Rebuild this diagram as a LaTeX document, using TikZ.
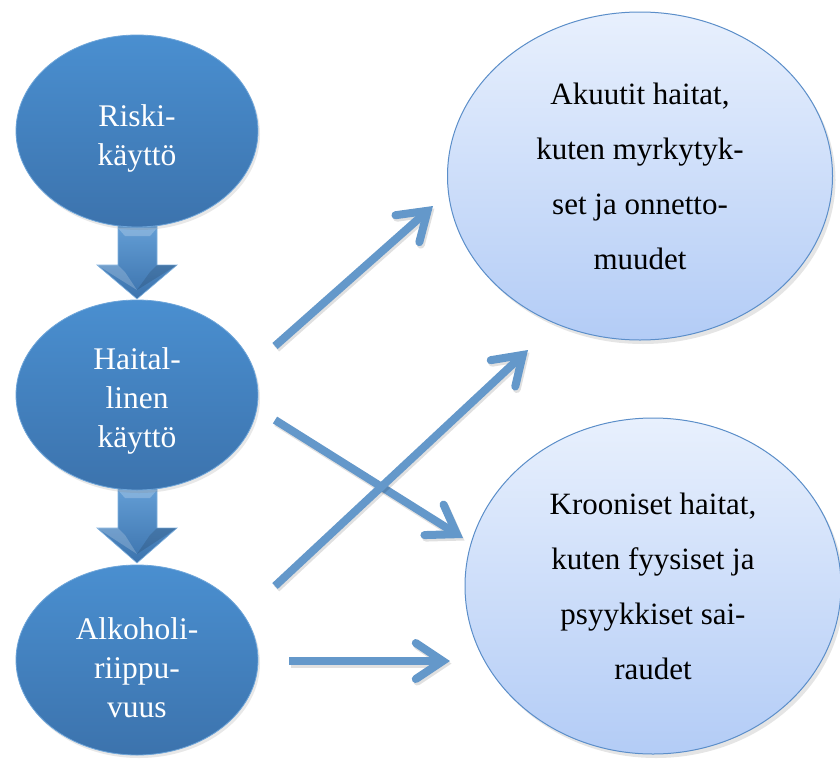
\documentclass[tikz,border=0pt]{standalone}
\usepackage{fontspec}
\setmainfont{Liberation Serif}
\usetikzlibrary{arrows.meta,shadows,calc,shapes.geometric}
\definecolor{dkblue}{HTML}{4A8FD0}
\definecolor{dkblueB}{HTML}{3C73AD}
\definecolor{ltblueT}{HTML}{E8F0FD}
\definecolor{ltblueB}{HTML}{B3CCF6}
\definecolor{edgeblue}{HTML}{5B8EC9}
\definecolor{arrowblue}{HTML}{6498CA}
\tikzset{
  leftell/.style={ellipse, draw=dkblue!80!white, line width=0.8pt, top color=dkblue, bottom color=dkblueB,
    minimum width=242pt, minimum height=192pt, inner sep=0pt,
    drop shadow={shadow xshift=2pt, shadow yshift=-3pt, opacity=0.18}},
  lefttext/.style={align=center, text=white, inner sep=0pt, font=\fontsize{31.5}{39}\selectfont},
  rightell/.style={ellipse, draw=edgeblue, line width=1pt, top color=ltblueT, bottom color=ltblueB,
    inner sep=0pt, align=center, text=black,
    font=\fontsize{31}{55}\selectfont,
    drop shadow={shadow xshift=3pt, shadow yshift=-4pt, opacity=0.2}},
  thinarrow/.style={draw=arrowblue, line width=8pt,
    -{Straight Barb[length=27pt, width=36pt, line cap=round]},
    preaction={draw=black, opacity=0.12, line width=8pt, transform canvas={xshift=1.5pt, yshift=-2.5pt},
      -{Straight Barb[length=27pt, width=36pt, line cap=round]}}},
  blockarrow/.style={top color=dkblue!85!white, bottom color=dkblueB, draw=dkblue!70!white, line width=0.6pt}
}
\begin{document}
\begin{tikzpicture}[x=1pt,y=-1pt]
\useasboundingbox (0,0) rectangle (840,758);
\fill[white] (0,0) rectangle (840,758);

% block arrows (behind ellipses)
\path[blockarrow] (118,222) -- (157,222) -- (157,265) -- (177,265) -- (137,299) -- (97,265) -- (118,265) -- cycle;
\fill[white,opacity=0.22] (118,228) -- (157,228) -- (150,236) -- (125,236) -- cycle;
\fill[white,opacity=0.2] (97,265) -- (118,265) -- (125,272) -- (137,290) -- cycle;
\fill[black,opacity=0.12] (177,265) -- (157,265) -- (150,272) -- (137,290) -- cycle;
\path[blockarrow] (118,484) -- (157,484) -- (157,528) -- (177,528) -- (137,563) -- (97,528) -- (118,528) -- cycle;
\fill[white,opacity=0.22] (118,490) -- (157,490) -- (150,498) -- (125,498) -- cycle;
\fill[white,opacity=0.2] (97,528) -- (118,528) -- (125,535) -- (137,554) -- cycle;
\fill[black,opacity=0.12] (177,528) -- (157,528) -- (150,535) -- (137,554) -- cycle;

% left ellipses
\node[leftell] (r) at (137,131) {};
\node[leftell, minimum height=190pt] (h) at (137,395) {};
\node[leftell, minimum height=190pt] (a) at (137,660) {};
\node[lefttext] (rt) at (137,138) {Riski-\\käyttö};
\node[lefttext] (ht) at (137,401) {Haital-\\linen\\käyttö};
\node[lefttext] (at) at (137,668) {Alkoholi-\\riippu-\\vuus};

% right ellipses
\node[rightell, minimum width=385pt, minimum height=328pt] (ak) at (640,176)
  {Akuutit haitat,\\kuten myrkytyk-\\set ja onnetto-\\muudet};
\node[rightell, minimum width=376pt, minimum height=336pt] (kr) at (653,586)
  {Krooniset haitat,\\kuten fyysiset ja\\psyykkiset sai-\\raudet};

% connector end points
\coordinate (s1) at (275,346);
\coordinate (e1) at (433,206);
\coordinate (s2) at (275,420);
\coordinate (e2) at (463,538);
\coordinate (s3) at (275,586);
\coordinate (e3) at (528,350);
\coordinate (s4) at (289,661);
\coordinate (e4) at (450,661);

\draw[thinarrow] (s1) -- (e1);
\draw[thinarrow] (s2) -- (e2);
\draw[thinarrow] (s3) -- (e3);
\draw[thinarrow] (s4) -- (e4);
\end{tikzpicture}
\end{document}
